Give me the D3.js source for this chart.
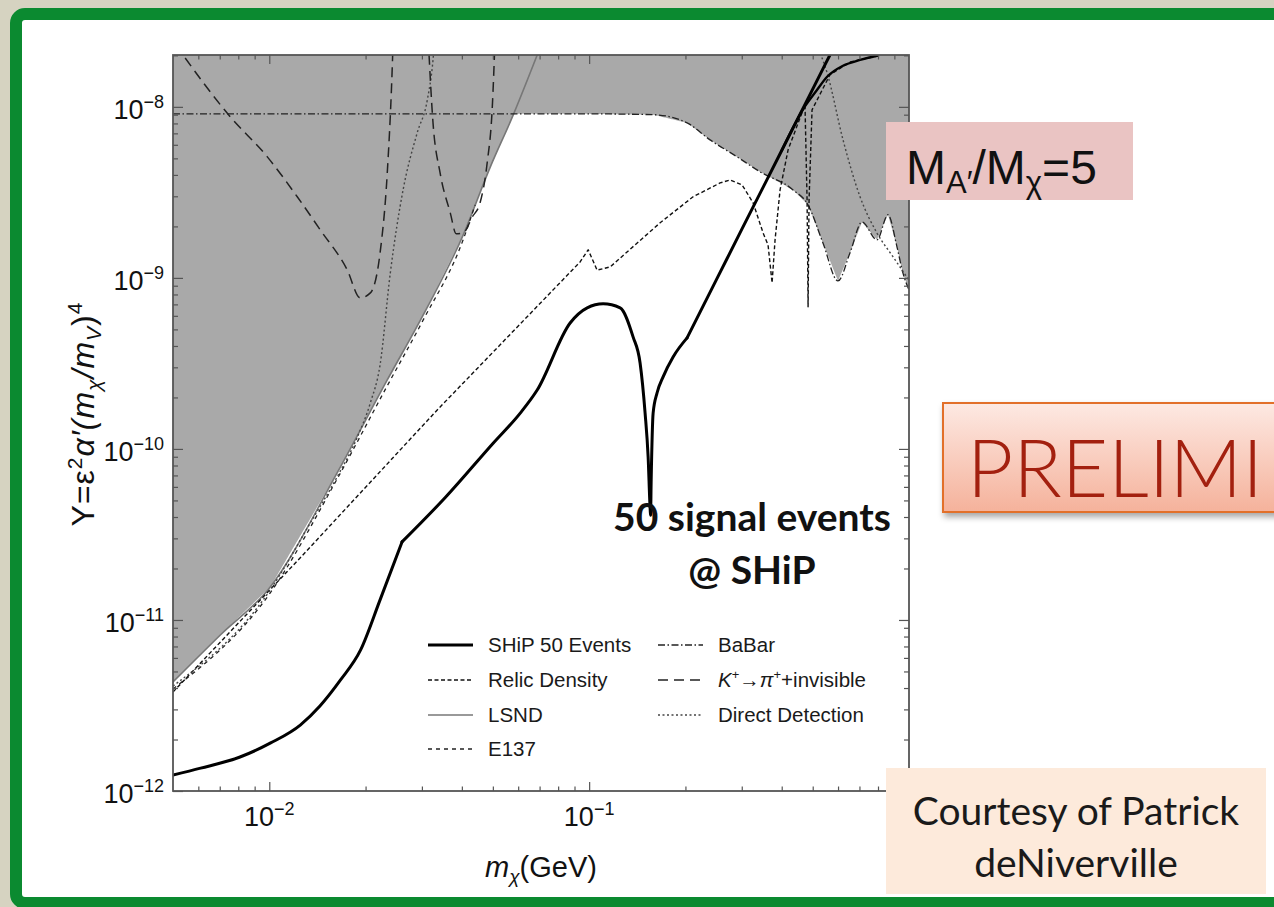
<!DOCTYPE html>
<html><head><meta charset="utf-8">
<script src="https://cdn.jsdelivr.net/npm/d3@7"></script>
<style>
html,body{margin:0;padding:0;background:#d6d3c1;}
svg{display:block;}
</style></head><body>
<svg id="c" width="1274" height="907"></svg>
<script>
// ---- data (m_chi in GeV, Y) ----
// SHiP 50-event curve, given as smooth pieces joined at kinks
const ship50Low = [[0.005,1.24e-12],[0.0061,1.36e-12],[0.0081,1.58e-12],[0.0101,1.91e-12],[0.0125,2.43e-12],[0.0144,3.14e-12],[0.0167,4.46e-12],[0.0193,6.68e-12],[0.0222,1.31e-11],[0.026,2.86e-11]];
const ship50Mid = [[0.026,2.86e-11],[0.0355,5.2e-11],[0.0501,1.08e-10],[0.0609,1.62e-10],[0.0688,2.21e-10],[0.0872,5.45e-10],[0.0986,6.68e-10],[0.1106,7.05e-10],[0.125,6.68e-10],[0.1372,4.52e-10],[0.1443,3.18e-10],[0.1496,1.62e-10],[0.1529,8.98e-11],[0.1552,4.4e-11],[0.1556,4.1e-11],[0.1563,6.59e-11],[0.1585,1.62e-10],[0.1631,2.13e-10],[0.1703,2.64e-10],[0.183,3.45e-10],[0.2024,4.46e-10]];
const ship50High = [[0.2024,4.46e-10],[0.25,9.76e-10],[0.3,1.92e-9],[0.4,5.56e-9],[0.5,1.27e-8],[0.566,2.01e-8]];
const ship50Upper = [[0.4,5.56e-9],[0.47,9.9e-9],[0.51,1.22e-8],[0.5546,1.5e-8],[0.622,1.74e-8],[0.703,1.88e-8],[0.794,1.99e-8]];
const lsnd = [[0.005,4.34e-12],[0.00703,8.17e-12],[0.01007,1.56e-11],[0.0163,7.24e-11],[0.02338,2.53e-10],[0.03029,6.08e-10],[0.04037,1.78e-9],[0.0491,4.46e-9],[0.0579,8.98e-9],[0.0688,2.01e-8]];
const relic = [[0.005,3.79e-12],[0.0125,2.31e-11],[0.0335,1.69e-10],[0.0937,1.24e-9],[0.0993,1.46e-9],[0.1059,1.11e-9],[0.1164,1.16e-9],[0.1667,2.10e-9],[0.2113,2.98e-9],[0.2566,3.59e-9],[0.2758,3.74e-9],[0.3006,3.50e-9],[0.3255,2.75e-9],[0.3499,1.83e-9],[0.3625,1.56e-9],[0.3732,9.35e-10],[0.3813,1.67e-9],[0.3953,3.27e-9],[0.4188,5.61e-9],[0.473,1.03e-8],[0.4801,2.86e-9],[0.4836,6.77e-10],[0.487,2.86e-9],[0.4976,9.6e-9],[0.566,1.54e-8],[0.655,1.83e-8],[0.812,2.0e-8]];
const babar = [[0.005,9.1e-9],[0.1,9.1e-9],[0.1585,9.0e-9],[0.2024,8.06e-9],[0.2388,6.41e-9],[0.2901,5.10e-9],[0.3423,4.17e-9],[0.434,3.27e-9],[0.4836,2.67e-9],[0.5383,1.60e-9],[0.5998,9.6e-10],[0.6539,1.40e-9],[0.7128,2.12e-9],[0.794,1.67e-9],[0.8597,2.34e-9],[0.917,1.52e-9],[0.957,1.07e-9],[1.0,8.5e-10]];
const e137 = [[0.005,3.95e-12],[0.01007,1.44e-11],[0.0163,6.68e-11],[0.02338,2.34e-10],[0.03029,5.68e-10],[0.04037,1.67e-9],[0.044,2.67e-9]];
const directLow = [[0.005,4.11e-12],[0.01007,1.50e-11],[0.01343,3.69e-11],[0.0163,6.86e-11],[0.01884,1.17e-10],[0.0207,1.86e-10],[0.0222,3.10e-10],[0.0239,1.07e-9],[0.0262,3.27e-9],[0.029,7.05e-9],[0.0312,1.10e-8],[0.0325,1.88e-8],[0.0328,2.3e-8]];
const directHigh = [[0.515,2.3e-8],[0.5546,1.58e-8],[0.622,6.41e-9],[0.703,2.98e-9],[0.794,1.83e-9],[0.891,1.33e-9],[1.0,9.7e-10]];
const kaonA = [[0.0051,2.3e-8],[0.00755,8.75e-9],[0.00986,5.10e-9],[0.01223,2.98e-9],[0.01443,1.91e-9],[0.01754,1.11e-9],[0.01923,7.64e-10],[0.0207,8.17e-10],[0.0222,1.40e-9],[0.02338,4.11e-9],[0.0242,1.58e-8],[0.0244,2.5e-8]];
const kaonB = [[0.0314,2.5e-8],[0.0325,8.06e-9],[0.0342,4.11e-9],[0.0368,2.40e-9],[0.0384,1.81e-9],[0.0404,1.83e-9],[0.0431,2.27e-9],[0.0456,2.75e-9],[0.048,4.71e-9],[0.0498,1.0e-8],[0.0508,2.5e-8]];

const xMajor = [0.01, 0.1];
const xMajorLabels = ["−2", "−1"];
const xMinor = [0.006,0.007,0.008,0.009,0.02,0.03,0.04,0.05,0.06,0.07,0.08,0.09,0.2,0.3,0.4,0.5,0.6,0.7,0.8,0.9];
const yMajor = [1e-12,1e-11,1e-10,1e-9,1e-8];
const yMajorLabels = ["−12","−11","−10","−9","−8"];
const yMinor = [2e-12,3e-12,4e-12,5e-12,6e-12,7e-12,8e-12,9e-12,2e-11,3e-11,4e-11,5e-11,6e-11,7e-11,8e-11,9e-11,2e-10,3e-10,4e-10,5e-10,6e-10,7e-10,8e-10,9e-10,2e-9,3e-9,4e-9,5e-9,6e-9,7e-9,8e-9,9e-9,2e-8];

// ---- layout ----
const X0=173, X1=909, Y0=55, Y1=791;
const svg = d3.select("#c");
const x = d3.scaleLog().domain([0.005,1]).range([X0,X1]);
const y = d3.scaleLog().domain([1e-12,2.01e-8]).range([Y1,Y0]);
const SANS = "'Liberation Sans', Arial, Helvetica, sans-serif";
const HUM = "Lato, 'Open Sans', sans-serif";

// slide frame
svg.append("rect").attr("x",0).attr("y",0).attr("width",1274).attr("height",907).attr("fill","#d6d3c1");
svg.append("rect").attr("x",16).attr("y",14).attr("width",1276).attr("height",889).attr("rx",9)
  .attr("fill","#ffffff").attr("stroke","#0b8a30").attr("stroke-width",12);

const defs = svg.append("defs");
defs.append("clipPath").attr("id","plotclip").append("rect")
  .attr("x",X0).attr("y",Y0).attr("width",X1-X0).attr("height",Y1-Y0);
const grad = defs.append("linearGradient").attr("id","pg").attr("x1",0).attr("y1",0).attr("x2",0).attr("y2",1);
grad.append("stop").attr("offset","0%").attr("stop-color","#fde9e3");
grad.append("stop").attr("offset","100%").attr("stop-color","#f5b29b");
const flt = defs.append("filter").attr("id","sh").attr("x","-10%").attr("y","-10%").attr("width","130%").attr("height","140%");
flt.append("feDropShadow").attr("dx",2).attr("dy",4).attr("stdDeviation",3).attr("flood-color","#000").attr("flood-opacity",0.35);

// excluded (grey) region: above min(LSND, BaBar)
function logInterp(data, m){
  if (m < data[0][0] || m > data[data.length-1][0]) return Infinity;
  for (let i=0;i<data.length-1;i++){
    const a=data[i], b=data[i+1];
    if (m>=a[0] && m<=b[0]){
      const t = (Math.log10(m)-Math.log10(a[0]))/(Math.log10(b[0])-Math.log10(a[0]) || 1);
      return Math.pow(10, Math.log10(a[1]) + t*(Math.log10(b[1])-Math.log10(a[1])));
    }
  }
  return Infinity;
}
const lo = Math.log10(0.005), hi = 0;
let grid = d3.range(0,801).map(i=>Math.pow(10, lo + i*(hi-lo)/800));
grid = grid.concat(lsnd.map(d=>d[0]), babar.map(d=>d[0])).sort((a,b)=>a-b);
const boundary = grid.map(m=>[m, Math.min(logInterp(lsnd,m), logInterp(babar,m))]);
const plot = svg.append("g").attr("clip-path","url(#plotclip)");
plot.append("path").datum(boundary)
  .attr("d", d3.area().x(d=>x(d[0])).y0(d=>y(d[1])).y1(Y0-5))
  .attr("fill","#a9a9a9");

const line = d3.line().x(d=>x(d[0])).y(d=>y(d[1])).curve(d3.curveMonotoneX);
const lineLin = d3.line().x(d=>x(d[0])).y(d=>y(d[1]));
function draw(data, stroke, width, dash, gen){
  plot.append("path").datum(data).attr("d",(gen||line)(data))
    .attr("fill","none").attr("stroke",stroke).attr("stroke-width",width)
    .attr("stroke-dasharray",dash||null).attr("stroke-linejoin","round").attr("stroke-linecap", dash?"butt":"round");
}
const sty = {
  ship:["#000",3,null], relic:["#111",1.4,"4,2.5"], lsnd:["#777",1.6,null], e137:["#222",1.3,"4,4"],
  babar:["#222",1.3,"7,2.5,1.5,2.5"], kaon:["#222",1.5,"10,6"], direct:["#444",1.4,"2,2.5"]
};
draw(lsnd, ...sty.lsnd);
draw(e137, ...sty.e137);
draw(babar, ...sty.babar);
draw(relic, ...sty.relic, lineLin);
draw(directLow, ...sty.direct);
draw(directHigh, ...sty.direct);
draw(kaonA, ...sty.kaon);
draw(kaonB, ...sty.kaon);
draw(ship50Low, ...sty.ship);
draw(ship50Mid, ...sty.ship);
draw(ship50High, ...sty.ship);
draw(ship50Upper, "#000", 2.4, null);

// axes (ticks inside on all four sides)
const ax = svg.append("g").attr("color","#555");
function addAxis(gen, tx, ty){
  const g = ax.append("g").attr("transform",`translate(${tx},${ty})`).call(gen);
  g.select(".domain").remove();
  g.selectAll("line").attr("stroke","#555").attr("stroke-width",1.2);
  g.selectAll("text").remove();
}
addAxis(d3.axisBottom(x).tickValues(xMajor).tickSize(-9), 0, Y1);
addAxis(d3.axisBottom(x).tickValues(xMinor).tickSize(-4.5), 0, Y1);
addAxis(d3.axisTop(x).tickValues(xMajor).tickSize(-9), 0, Y0);
addAxis(d3.axisTop(x).tickValues(xMinor).tickSize(-4.5), 0, Y0);
addAxis(d3.axisLeft(y).tickValues(yMajor).tickSize(-10), X0, 0);
addAxis(d3.axisLeft(y).tickValues(yMinor).tickSize(-5), X0, 0);
addAxis(d3.axisRight(y).tickValues(yMajor).tickSize(-10), X1, 0);
addAxis(d3.axisRight(y).tickValues(yMinor).tickSize(-5), X1, 0);
svg.append("rect").attr("x",X0).attr("y",Y0).attr("width",X1-X0).attr("height",Y1-Y0)
  .attr("fill","none").attr("stroke","#555").attr("stroke-width",1.8);

// tick labels
xMajor.forEach((v,i)=>{
  const t = svg.append("text").attr("x",x(v)).attr("y",826).attr("text-anchor","middle")
    .attr("font-family",SANS).attr("font-size",27).attr("fill","#111");
  t.append("tspan").text("10");
  t.append("tspan").attr("font-size",18).attr("dy",-11).text(xMajorLabels[i]);
});
yMajor.forEach((v,i)=>{
  const t = svg.append("text").attr("x",164).attr("y",y(v)+12).attr("text-anchor","end")
    .attr("font-family",SANS).attr("font-size",27).attr("fill","#111");
  t.append("tspan").text("10");
  t.append("tspan").attr("font-size",18).attr("dy",-11).text(yMajorLabels[i]);
});

// axis titles
const xt = svg.append("text").attr("x",(X0+X1)/2).attr("y",877).attr("text-anchor","middle")
  .attr("font-family",SANS).attr("font-size",29).attr("fill","#111");
xt.append("tspan").attr("font-style","italic").text("m");
xt.append("tspan").attr("font-size",19).attr("dy",6).attr("font-style","italic").text("χ");
xt.append("tspan").attr("dy",-6).text("(GeV)");

const yt = svg.append("text").attr("transform",`translate(94,414) rotate(-90)`).attr("text-anchor","middle")
  .attr("font-family",SANS).attr("font-size",32).attr("letter-spacing",1).attr("fill","#111");
yt.append("tspan").text("Y=ε");
yt.append("tspan").attr("font-size",21).attr("dy",-12).text("2");
yt.append("tspan").attr("dy",12).attr("font-style","italic").text("α′(m");
yt.append("tspan").attr("font-size",21).attr("dy",7).attr("font-style","italic").text("χ");
yt.append("tspan").attr("dy",-7).attr("font-style","italic").text("/m");
yt.append("tspan").attr("font-size",21).attr("dy",7).attr("font-style","italic").text("V");
yt.append("tspan").attr("dy",-7).text(")");
yt.append("tspan").attr("font-size",21).attr("dy",-12).text("4");

// legend
const legendItems = [
  {key:"ship", label:"SHiP 50 Events", col:0, row:0},
  {key:"relic", label:"Relic Density", col:0, row:1},
  {key:"lsnd", label:"LSND", col:0, row:2},
  {key:"e137", label:"E137", col:0, row:3},
  {key:"babar", label:"BaBar", col:1, row:0},
  {key:"kaon", label:"K+→π+ +invisible", col:1, row:1},
  {key:"direct", label:"Direct Detection", col:1, row:2}
];
const legRowY = [645, 680, 715, 749];
const legColX = [428, 658];
const lg = svg.append("g");
legendItems.forEach(it=>{
  const s = sty[it.key], lx = legColX[it.col], ly = legRowY[it.row];
  lg.append("line").attr("x1",lx).attr("x2",lx+45).attr("y1",ly).attr("y2",ly)
    .attr("stroke",s[0]).attr("stroke-width",s[1]).attr("stroke-dasharray",s[2]);
  const t = lg.append("text").attr("x",lx+60).attr("y",ly+7).attr("font-family",SANS)
    .attr("font-size",20.5).attr("fill","#1a1a1a");
  if (it.key==="kaon"){
    t.append("tspan").attr("font-style","italic").text("K");
    t.append("tspan").attr("font-size",13).attr("dy",-8).text("+");
    t.append("tspan").attr("dy",8).text("→");
    t.append("tspan").attr("font-style","italic").text("π");
    t.append("tspan").attr("font-size",13).attr("dy",-8).text("+");
    t.append("tspan").attr("dy",8).text("+invisible");
  } else t.text(it.label);
});

// annotation
svg.append("text").attr("x",752).attr("y",531).attr("text-anchor","middle").attr("font-family",HUM)
  .attr("font-weight","bold").attr("font-size",39).attr("fill","#111").text("50 signal events");
svg.append("text").attr("x",752).attr("y",584).attr("text-anchor","middle").attr("font-family",HUM)
  .attr("font-weight","bold").attr("font-size",39).attr("fill","#111").text("@ SHiP");

// ratio box
svg.append("rect").attr("x",886).attr("y",122).attr("width",247).attr("height",78).attr("fill","#eac4c3");
const rt = svg.append("text").attr("x",906).attr("y",184).attr("font-family",SANS).attr("font-size",48).attr("fill","#111");
rt.append("tspan").text("M");
rt.append("tspan").attr("font-size",31).attr("dy",9).text("A′");
rt.append("tspan").attr("dy",-9).text("/M");
rt.append("tspan").attr("font-size",31).attr("dy",9).text("χ");
rt.append("tspan").attr("dy",-9).text("=5");

// preliminary box
svg.append("rect").attr("x",943).attr("y",403).attr("width",420).attr("height",109)
  .attr("fill","url(#pg)").attr("stroke","#e2702c").attr("stroke-width",2).attr("filter","url(#sh)");
svg.append("text").attr("x",967).attr("y",497).attr("font-family",HUM).attr("font-weight",300)
  .attr("font-size",80).attr("fill","#a3200f").text("PRELIMI");

// courtesy box
svg.append("rect").attr("x",886).attr("y",768).attr("width",380).attr("height",126).attr("fill","#fdeadb");
svg.append("text").attr("x",1076).attr("y",825).attr("text-anchor","middle").attr("font-family",HUM)
  .attr("font-size",39).attr("fill","#1a1a1a").text("Courtesy of Patrick");
svg.append("text").attr("x",1076).attr("y",877).attr("text-anchor","middle").attr("font-family",HUM)
  .attr("font-size",39).attr("fill","#1a1a1a").text("deNiverville");
</script>
</body></html>
